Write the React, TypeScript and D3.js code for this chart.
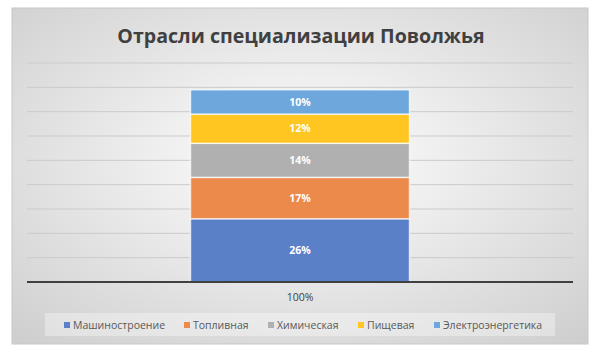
import React from "react";
import * as d3 from "d3";

const seriesNames = ["Машиностроение", "Топливная", "Химическая", "Пищевая", "Электроэнергетика"];
const seriesValues = [26, 17, 14, 12, 10];
const seriesColors = ["#5a80c8", "#ec8a4c", "#b0b0b0", "#ffc521", "#6ea7db"];
const categories = ["100%"];
const yTicks = [0, 10, 20, 30, 40, 50, 60, 70, 80, 90];
const title = "Отрасли специализации Поволжья";

const W = 602, H = 355;
const plot = { left: 27, right: 573, top: 63, bottom: 282 };

export default function App() {
  const x = d3.scaleBand().domain(categories).range([plot.left, plot.right]).paddingInner(0).paddingOuter(0.7466);
  const y = d3.scaleLinear().domain([0, 90]).range([plot.bottom, plot.top]);
  const stackData = [Object.fromEntries(seriesNames.map((n, i) => [n, seriesValues[i]]))];
  const stacked = d3.stack().keys(seriesNames)(stackData as any);

  const legendX = [64, 184, 268, 358, 434];

  return (
    <svg width={W} height={H} style={{ position: "absolute", left: 0, top: 0 }} fontFamily="'Open Sans', sans-serif">
      <defs>
        <radialGradient id="bg" cx="50%" cy="45%" r="75%">
          <stop offset="0%" stopColor="#ffffff" />
          <stop offset="100%" stopColor="#cdcdcd" />
        </radialGradient>
      </defs>
      <rect x={0} y={0} width={W} height={H} fill="#ffffff" />
      <rect x={12} y={8} width={576} height={336} fill="url(#bg)" stroke="#c8c8c8" strokeWidth={1} />
      <text x={W / 2} y={43} textAnchor="middle" fontSize={19.6} fontWeight="bold" fill="#404040">{title}</text>
      {yTicks.slice(1).map(t => (
        <line key={t} x1={plot.left} x2={plot.right} y1={y(t)} y2={y(t)} stroke="#cbcbcb" strokeWidth={1} />
      ))}
      {stacked.map((s, i) => (
        <g key={seriesNames[i]}>
          {s.map((d, j) => {
            const x0 = x(categories[j])!;
            const y0 = y(d[1]);
            const h = y(d[0]) - y(d[1]);
            return (
              <g key={j}>
                <rect x={x0} y={y0} width={x.bandwidth()} height={h} fill={seriesColors[i]} stroke="#ffffff" strokeWidth={1.5} strokeOpacity={0.7} />
                <text x={x0 + x.bandwidth() / 2} y={y0 + h / 2} dy="0.35em" textAnchor="middle" fontSize={10.5} fontWeight="bold" fill="#ffffff">
                  {seriesValues[i]}%
                </text>
              </g>
            );
          })}
        </g>
      ))}
      <line x1={plot.left} x2={plot.right} y1={plot.bottom} y2={plot.bottom} stroke="#404040" strokeWidth={2} />
      {categories.map(c => (
        <text key={c} x={x(c)! + x.bandwidth() / 2} y={301} textAnchor="middle" fontSize={10.5} fill="#404040">{c}</text>
      ))}
      <rect x={45} y={313} width={510} height={23} fill="#ffffff" fillOpacity={0.35} />
      {seriesNames.map((n, i) => (
        <g key={n}>
          <rect x={legendX[i]} y={322} width={6} height={6} fill={seriesColors[i]} />
          <text x={legendX[i] + 9} y={325} dy="0.35em" fontSize={10.5} fill="#595959">{n}</text>
        </g>
      ))}
    </svg>
  );
}
